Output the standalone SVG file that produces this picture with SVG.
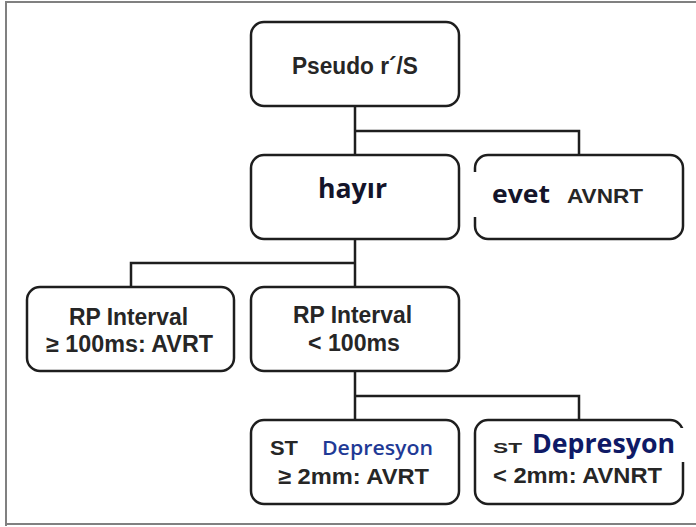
<svg xmlns="http://www.w3.org/2000/svg" width="696" height="527" viewBox="0 0 696 527">
<style>
.box{fill:#fff;stroke:#1e1e1e;stroke-width:2.5}
.conn{fill:none;stroke:#1e1e1e;stroke-width:2.5}
.t{font-family:"Liberation Sans",Arial,sans-serif;font-weight:bold;fill:#262626}
.c{font-family:"Open Sans","Noto Sans",sans-serif;font-weight:bold;fill:#14142a}
.blue{font-family:"Open Sans","Noto Sans",sans-serif;font-weight:600;fill:#1f3a96}
.navy{font-family:"Open Sans","Noto Sans",sans-serif;font-weight:bold;fill:#0f1a66}
.gap{fill:#fff;stroke:none}
</style>
<rect x="0" y="0" width="696" height="527" fill="#fff"/>
<path d="M6,526 V2 H696 M6,524 H696" fill="none" stroke="#808080" stroke-width="2"/>
<g id="connectors">
<path class="conn" d="M355,106 V155 M355,131 H579 V155"/>
<path class="conn" d="M355,239 V287 M355,263 H131 V287"/>
<path class="conn" d="M355,371 V420 M355,396 H579 V420"/>
</g>
<g id="n-pseudo">
<rect class="box" x="251" y="22" width="208" height="84" rx="13"/>
<text class="t" x="292" y="74" font-size="23" textLength="126" lengthAdjust="spacingAndGlyphs">Pseudo r´/S</text>
</g>
<g id="n-hayir">
<rect class="box" x="251" y="155" width="208" height="84" rx="13"/>
<text class="c" x="318" y="198" font-size="26" textLength="69" lengthAdjust="spacingAndGlyphs">hayır</text>
</g>
<g id="n-evet">
<rect class="box" x="475" y="155" width="208" height="84" rx="13"/>
<rect class="gap" x="472" y="172" width="6" height="45"/>
<text class="c" x="492" y="203" font-size="25" textLength="58" lengthAdjust="spacingAndGlyphs">evet</text>
<text class="t" x="567" y="203" font-size="20" textLength="76" lengthAdjust="spacingAndGlyphs">AVNRT</text>
</g>
<g id="n-rp-long">
<rect class="box" x="27" y="287" width="207" height="84" rx="13"/>
<text class="t" x="69" y="325" font-size="23" textLength="119" lengthAdjust="spacingAndGlyphs">RP Interval</text>
<text class="t" x="46" y="352" font-size="23" textLength="167" lengthAdjust="spacingAndGlyphs">≥ 100ms: AVRT</text>
</g>
<g id="n-rp-short">
<rect class="box" x="251" y="287" width="208" height="84" rx="13"/>
<text class="t" x="293" y="323" font-size="23" textLength="119" lengthAdjust="spacingAndGlyphs">RP Interval</text>
<text class="t" x="308" y="351" font-size="23" textLength="92" lengthAdjust="spacingAndGlyphs">&lt; 100ms</text>
</g>
<g id="n-st-avrt">
<rect class="box" x="251" y="420" width="208" height="84" rx="13"/>
<text class="t" x="270" y="455" font-size="21" textLength="28" lengthAdjust="spacingAndGlyphs">ST</text>
<text class="blue" x="322" y="455" font-size="20" textLength="111" lengthAdjust="spacingAndGlyphs">Depresyon</text>
<text class="t" x="278" y="484" font-size="22" textLength="151" lengthAdjust="spacingAndGlyphs">≥ 2mm: AVRT</text>
</g>
<g id="n-st-avnrt">
<rect class="box" x="475" y="420" width="208" height="84" rx="13"/>
<rect class="gap" x="680" y="428" width="6" height="34"/>
<text class="t" x="493" y="453" font-size="15" textLength="29" lengthAdjust="spacingAndGlyphs">ST</text>
<text class="navy" x="532" y="453" font-size="26" textLength="143" lengthAdjust="spacingAndGlyphs">Depresyon</text>
<text class="t" x="493" y="483" font-size="22" textLength="169" lengthAdjust="spacingAndGlyphs">&lt; 2mm: AVNRT</text>
</g>
</svg>
